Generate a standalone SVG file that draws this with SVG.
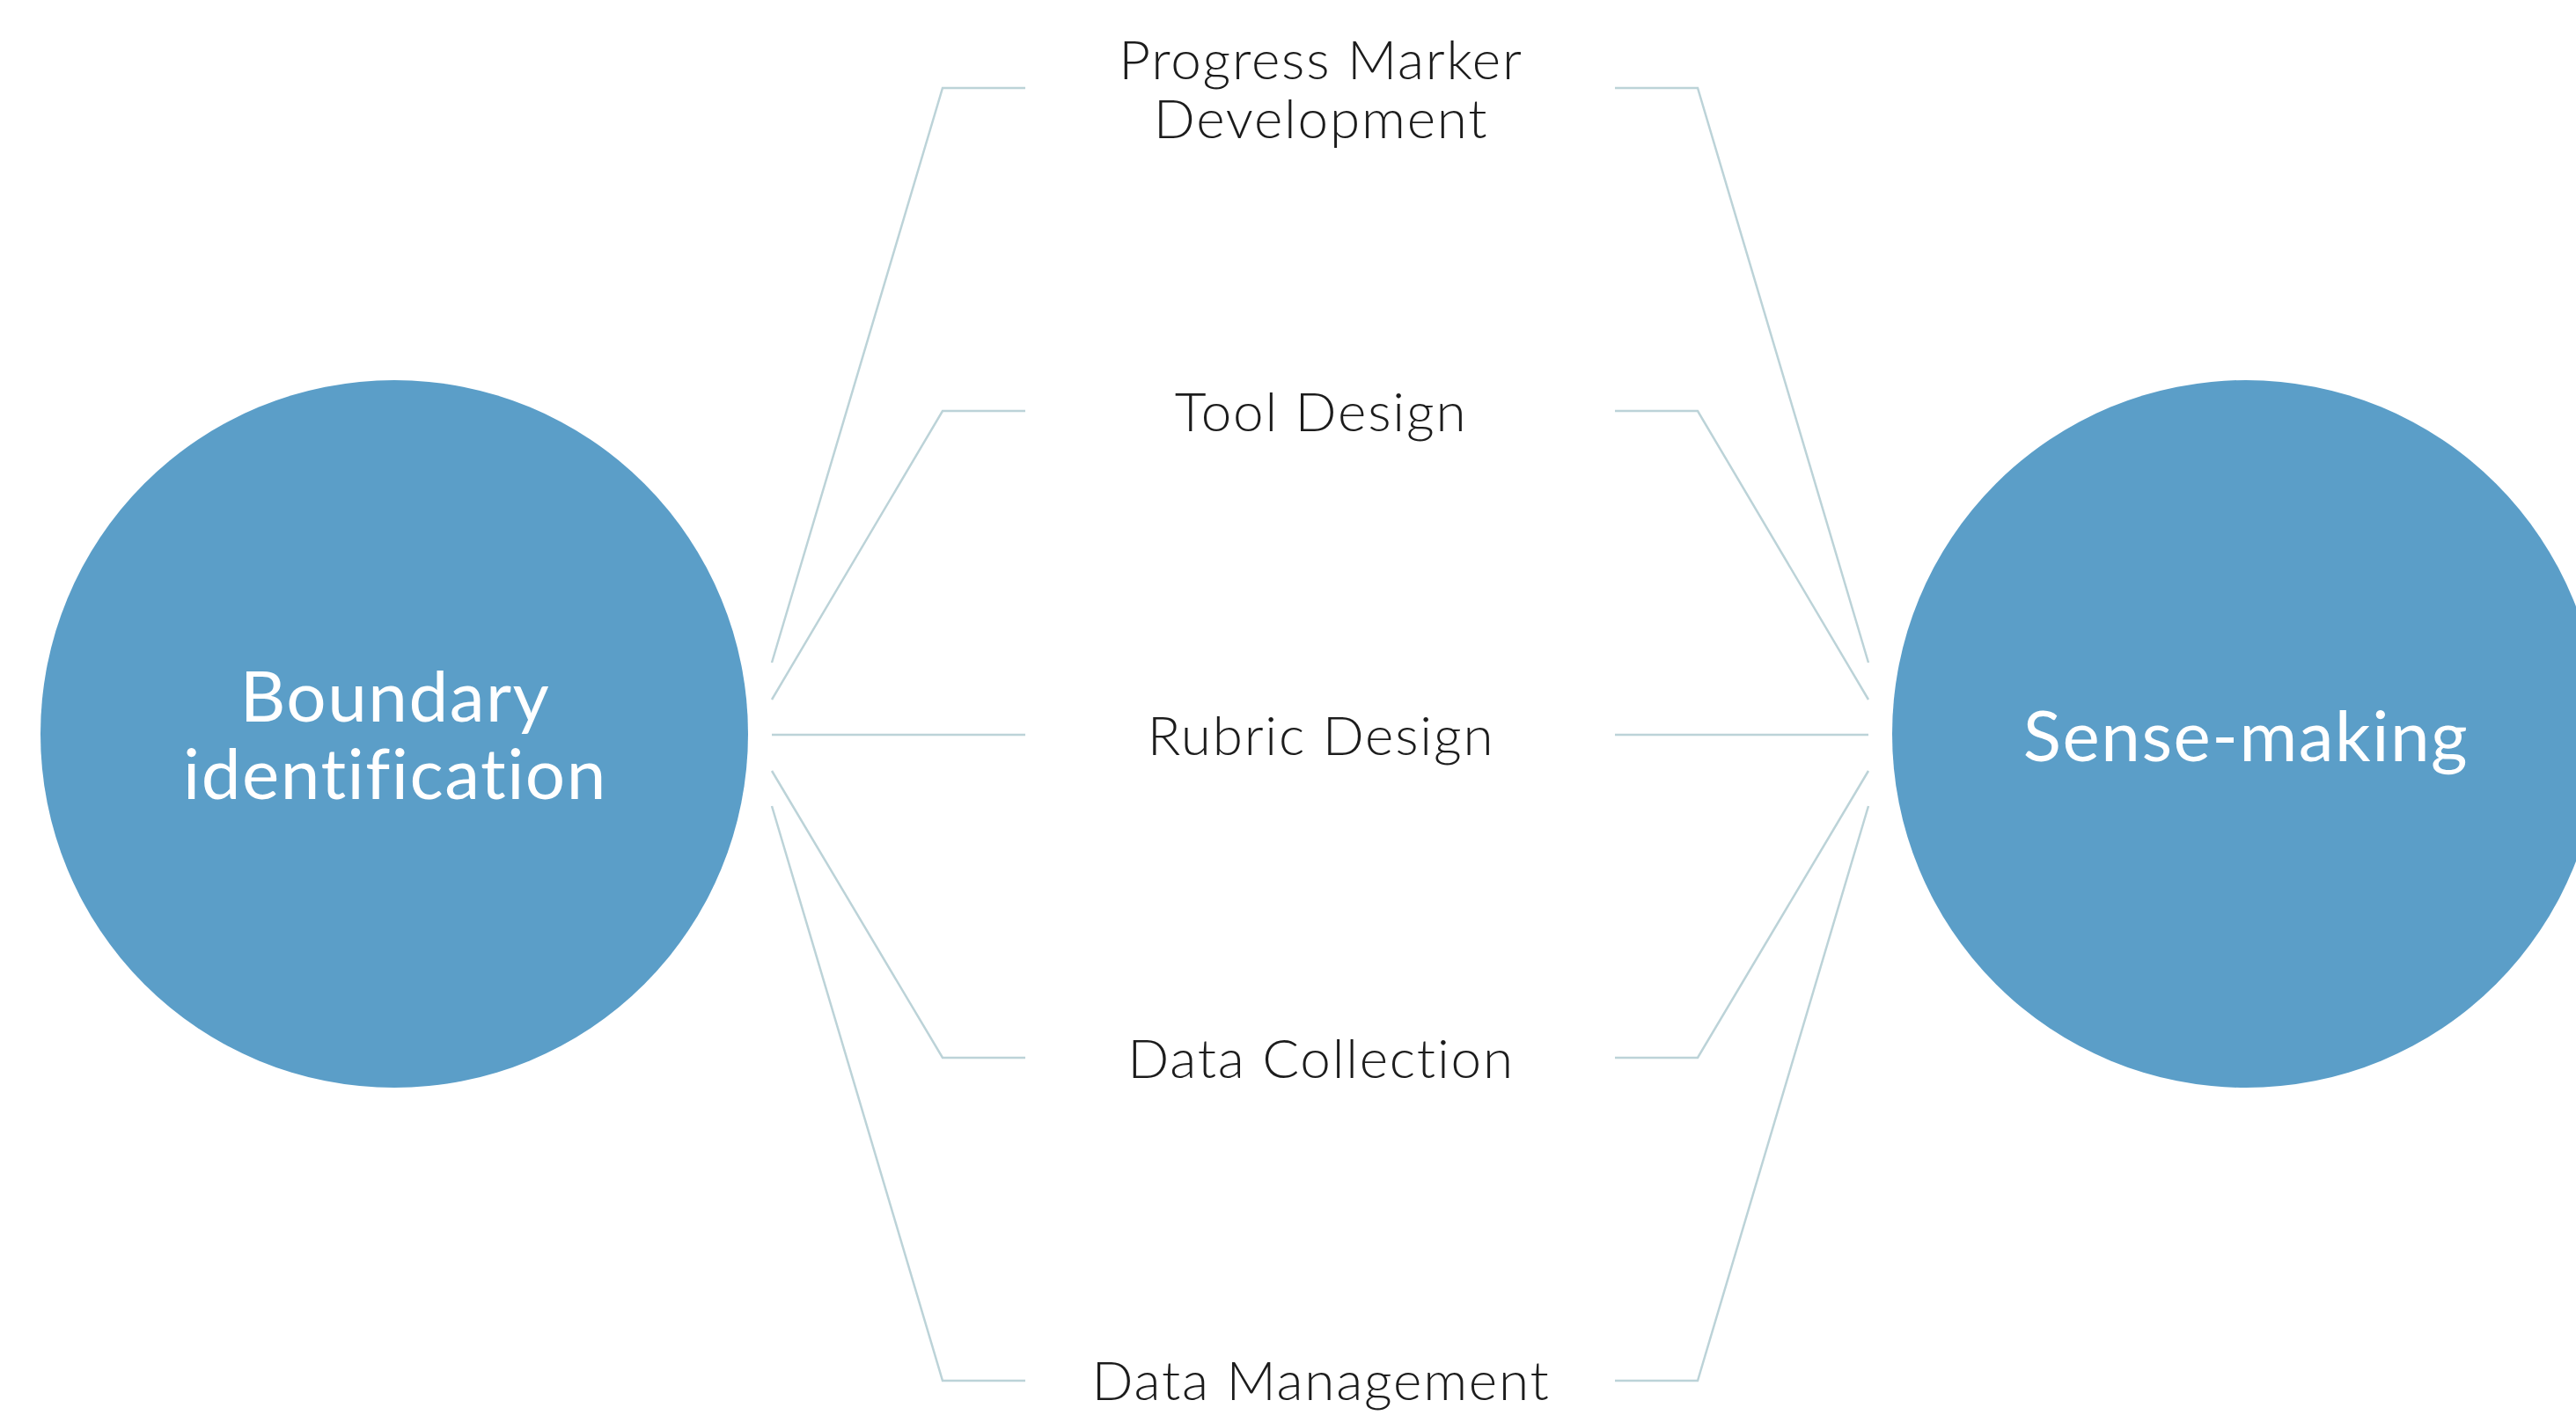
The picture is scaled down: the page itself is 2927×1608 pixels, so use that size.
<svg xmlns="http://www.w3.org/2000/svg" width="2927" height="1608" viewBox="0 0 2927 1608">
<style>
.circle{fill:#5b9ec8}
.ctext{font-family:Lato,"Noto Sans",sans-serif;font-size:80px;fill:#ffffff;text-anchor:middle;letter-spacing:1.5px;font-variant-ligatures:none}
.label{font-family:Lato,"Noto Sans",sans-serif;font-size:62px;font-weight:300;fill:#1c1c1c;text-anchor:middle;letter-spacing:1.8px;font-variant-ligatures:none}
.conn{fill:none;stroke:#bcd3d8;stroke-width:2.5;stroke-linejoin:miter}
</style>
<rect x="0" y="0" width="2927" height="1608" fill="#ffffff"/>
<g id="connectors">
<polyline class="conn" points="877,753 1071,100 1165,100"/>
<polyline class="conn" points="877,795 1071,467 1165,467"/>
<polyline class="conn" points="877,835 1165,835"/>
<polyline class="conn" points="877,876 1071,1202 1165,1202"/>
<polyline class="conn" points="877,916 1071,1569 1165,1569"/>
<polyline class="conn" points="2123,753 1929,100 1835,100"/>
<polyline class="conn" points="2123,795 1929,467 1835,467"/>
<polyline class="conn" points="2123,835 1835,835"/>
<polyline class="conn" points="2123,876 1929,1202 1835,1202"/>
<polyline class="conn" points="2123,916 1929,1569 1835,1569"/>
</g>
<g id="boundary">
<circle class="circle" cx="448" cy="834" r="402"/>
<text class="ctext" x="449" y="820">Boundary</text>
<text class="ctext" x="449" y="908">identification</text>
</g>
<g id="sensemaking">
<circle class="circle" cx="2552" cy="834" r="402"/>
<text class="ctext" x="2552" y="865">Sense-making</text>
</g>
<g id="progress">
<text class="label" x="1501" y="90">Progress Marker</text>
<text class="label" x="1501" y="157">Development</text>
</g>
<g id="tool">
<text class="label" x="1501" y="490">Tool Design</text>
</g>
<g id="rubric">
<text class="label" x="1501" y="858">Rubric Design</text>
</g>
<g id="collection">
<text class="label" x="1501" y="1225">Data Collection</text>
</g>
<g id="management">
<text class="label" x="1501" y="1591">Data Management</text>
</g>
</svg>
